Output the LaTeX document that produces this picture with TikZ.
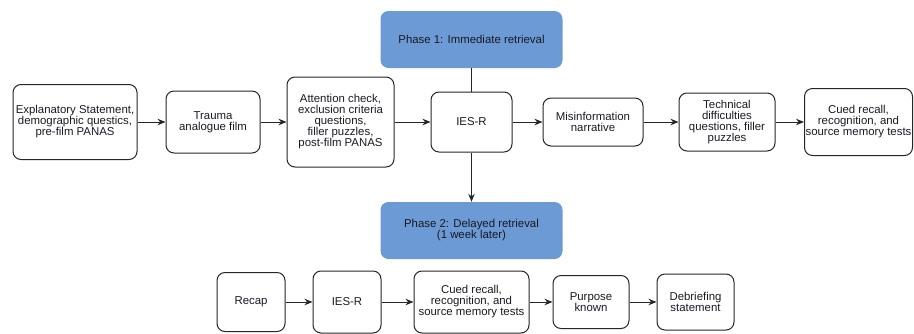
\documentclass[tikz,border=0pt]{standalone}
\usepackage{fontspec}
\setmainfont{Liberation Sans}
\usetikzlibrary{arrows.meta}
\definecolor{phaseblue}{RGB}{108,154,213}
\definecolor{txt}{RGB}{25,25,35}
\begin{document}
\begin{tikzpicture}[x=1pt,y=-1pt,
  font=\fontsize{11.4}{11}\selectfont,
  box/.style={draw=black!85, line width=1pt, rounded corners=8pt, align=center, inner sep=0pt, text=txt},
  phase/.style={fill=phaseblue, rounded corners=8pt, align=center, inner sep=0pt, minimum width=182pt, minimum height=57pt, text=txt},
  arr/.style={draw=black!85, line width=1pt, -{Stealth[length=8pt,width=6.5pt]}},
  ln/.style={draw=black!85, line width=1pt}]
\useasboundingbox (0,0) rectangle (914,333);
% top row
\node[box, minimum width=124pt, minimum height=75pt] (n1) at (75,122) {Explanatory Statement,\\demographic questics,\\pre-film PANAS};
\node[box, minimum width=94pt, minimum height=62pt] (n2) at (213,122) {Trauma\\analogue film};
\node[box, minimum width=107pt, minimum height=90pt] (n3) at (340.5,122) {Attention check,\\exclusion criteria\\questions,\\filler puzzles,\\post-film PANAS};
\node[box, minimum width=81pt, minimum height=60pt] (n4) at (471.5,122) {IES-R};
\node[box, minimum width=100pt, minimum height=48pt] (n5) at (593,122) {Misinformation\\narrative};
\node[box, minimum width=96pt, minimum height=58pt] (n6) at (727,122) {Technical\\difficulties\\questions, filler\\puzzles};
\node[box, minimum width=108pt, minimum height=67pt] (n7) at (858.5,122) {Cued recall,\\recognition, and\\source memory tests};
% phases
\node[phase] (p1) at (471.5,39.5) {Phase 1: Immediate retrieval};
\node[phase] (p2) at (471.5,230.5) {Phase 2: Delayed retrieval\\(1 week later)};
% bottom row
\node[box, minimum width=68pt, minimum height=59pt] (b1) at (251,302) {Recap};
\node[box, minimum width=68pt, minimum height=62pt] (b2) at (347,302) {IES-R};
\node[box, minimum width=115pt, minimum height=62pt] (b3) at (471.5,302) {Cued recall,\\recognition, and\\source memory tests};
\node[box, minimum width=76pt, minimum height=53pt] (b4) at (591,302) {Purpose\\known};
\node[box, minimum width=77pt, minimum height=56pt] (b5) at (695.5,302) {Debriefing\\statement};
% connectors
\draw[arr] (n1) -- (n2);
\draw[arr] (n2) -- (n3);
\draw[arr] (n3) -- (n4);
\draw[arr] (n4) -- (n5);
\draw[arr] (n5) -- (n6);
\draw[arr] (n6) -- (n7);
\draw[ln] (p1) -- (n4);
\draw[arr] (n4) -- (p2);
\draw[arr] (b1) -- (b2);
\draw[arr] (b2) -- (b3);
\draw[arr] (b3) -- (b4);
\draw[arr] (b4) -- (b5);
\end{tikzpicture}
\end{document}
